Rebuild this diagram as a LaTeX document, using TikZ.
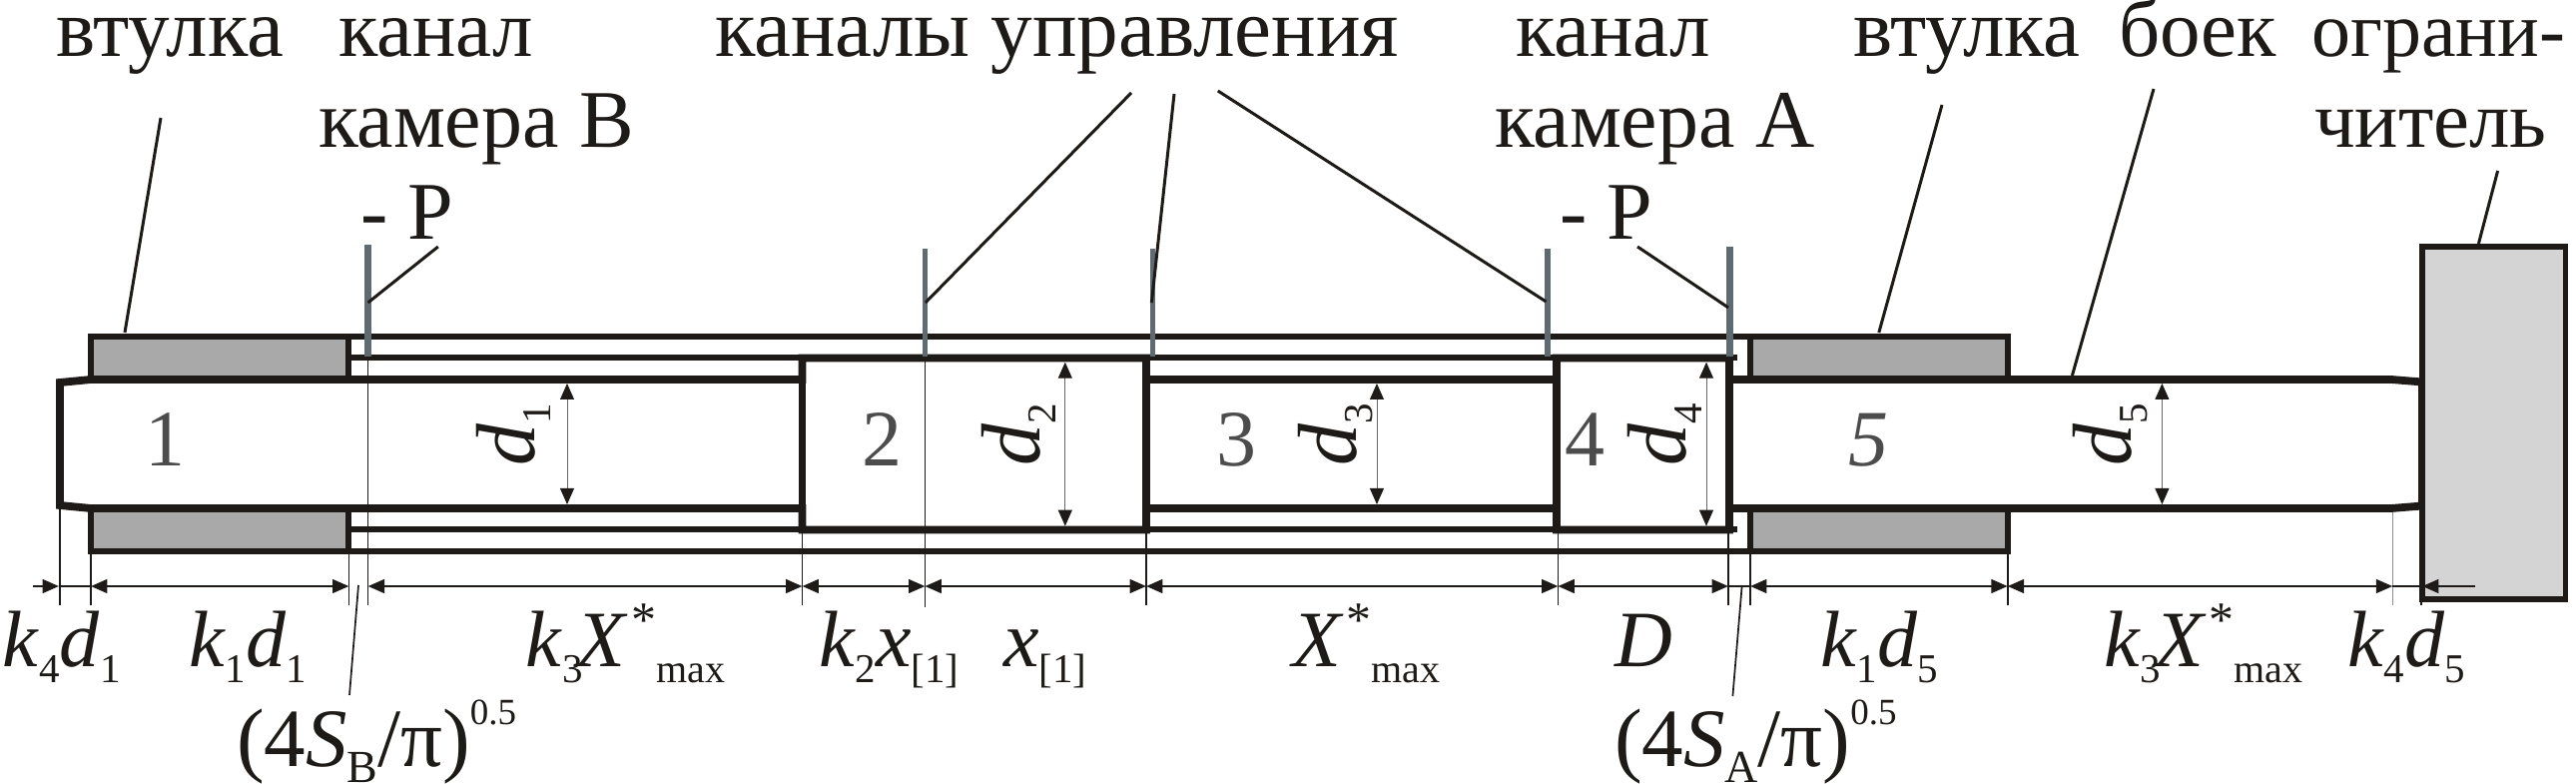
\documentclass[tikz,border=0pt]{standalone}
\usepackage{fontspec}
\setmainfont{Liberation Serif}
\usetikzlibrary{arrows.meta}
\definecolor{bushfill}{HTML}{A9A9A9}
\definecolor{stopfill}{HTML}{D4D4D4}
\definecolor{stubcol}{HTML}{5F6B70}
\definecolor{inkcol}{HTML}{1E1A18}
\definecolor{numcol}{HTML}{4C4C4C}
\newcommand\ssub[1]{\raisebox{-8pt}{\fontsize{20.5}{21}\selectfont\upshape #1}}
\newcommand\bsub[1]{\raisebox{-8pt}{\fontsize{23}{24}\selectfont\upshape #1}}
\newcommand\mx{\raisebox{-8pt}{\fontsize{20}{21}\selectfont\upshape max}}
\newcommand\strk{\raisebox{15.5pt}{\fontsize{25}{26}\selectfont\upshape *}}
\newcommand\pw{\raisebox{21pt}{\fontsize{18.5}{21}\selectfont\upshape 0.5}}
\newcommand\kk{\textit{k}}
\newcommand\dd{\textit{d}}
\begin{document}
\begin{tikzpicture}[x=0.5pt,y=-0.5pt,
  lab/.style={anchor=base west,inner sep=0pt,outer sep=0pt,font=\fontsize{#1}{44}\selectfont,text=inkcol},
  lab/.default=40,
  numlab/.style={anchor=base,inner sep=0pt,font=\fontsize{40}{44}\selectfont,text=numcol},
  rotlab/.style={rotate=90,anchor=base west,inner sep=0pt,font=\fontsize{42}{44}\selectfont,text=inkcol},
  heavy/.style={draw=inkcol,line width=3.9pt,line join=miter},
  wall/.style={draw=inkcol,line width=2.7pt,line join=miter},
  chan/.style={draw=inkcol,line width=2.6pt},
  stubw/.style={draw=stubcol,line width=3.8pt},
  stubn/.style={draw=stubcol,line width=2.7pt},
  leader/.style={draw=inkcol,line width=1.5pt},
  ext/.style={draw=inkcol,line width=0.85pt},
  faint/.style={draw=black!45,line width=0.4pt},
  dimx/.style={draw=inkcol,line width=1.3pt},
  dimb/.style={dimx,{Triangle[length=8.2pt,width=6.8pt]}-{Triangle[length=8.2pt,width=6.8pt]}},
  dimr/.style={dimx,-{Triangle[length=8.2pt,width=6.8pt]}},
  dimv/.style={draw=black!60,line width=0.45pt,{Triangle[length=8pt,width=7pt,color=inkcol,fill=inkcol]}-{Triangle[length=8pt,width=7pt,color=inkcol,fill=inkcol]}}]
\useasboundingbox (0,0) rectangle (2580,785);
\fill[white] (0,0) rectangle (2580,785);
% bushings
\foreach \a/\b/\c/\d in {91/337/349/380, 91/509/349/552, 1753/337/2011/380, 1753/509/2011/552}{
  \fill[bushfill] (\a,\b) rectangle (\c,\d);
  \draw[wall] (\a,\b) rectangle (\c,\d);
}
% channels
\draw[chan] (349,337) -- (1753,337);
\draw[chan] (349,552) -- (1753,552);
\draw[chan] (349,358) -- (1740,358);
\draw[chan] (349,530) -- (1740,530);
% striker outline
\draw[heavy] (60,383) -- (91,380) -- (803.5,380) -- (803.5,358.5) -- (1148,358.5) -- (1148,380) -- (1559,380) -- (1559,358.5) -- (1732,358.5) -- (1732,380) -- (2395,380) -- (2426,382.5)
  -- (2426,506.5) -- (2395,509) -- (1732,509) -- (1732,530.5) -- (1559,530.5) -- (1559,509) -- (1148,509) -- (1148,530.5) -- (803.5,530.5) -- (803.5,509) -- (91,509) -- (60,506) -- cycle;
% section walls
\draw[heavy] (803.5,358.5) -- (803.5,530.5);
\draw[heavy] (1148,358.5) -- (1148,530.5);
\draw[heavy] (1559,358.5) -- (1559,530.5);
\draw[heavy] (1732,358.5) -- (1732,530.5);
% stop
\draw[fill=stopfill,draw=inkcol,line width=2.6pt] (2426,247) rectangle (2569.5,600);
% channel stubs
\draw[stubw] (368.6,245) -- (368.6,357);
\draw[stubn] (926.4,249) -- (926.4,357);
\draw[stubn] (1154.5,249) -- (1154.5,357);
\draw[stubn] (1550,249) -- (1550,357);
\draw[stubw] (1732.6,247) -- (1732.6,357);
% extension lines
\draw[ext] (368.6,358) -- (368.6,606);
\draw[ext] (926.4,358) -- (926.4,608);
\draw[ext] (60,507) -- (60,606);
\draw[ext] (91,552) -- (91,606);
\draw[ext] (349.4,552) -- (349.4,606);
\draw[ext] (803.5,530) -- (803.5,606);
\draw[ext] (1148,530) -- (1148,606);
\draw[ext] (1560.4,530) -- (1560.4,606);
\draw[ext] (1731,530) -- (1731,606);
\draw[ext] (1753,552) -- (1753,606);
\draw[ext] (2010.7,552) -- (2010.7,606);
\draw[faint] (2396.3,513) -- (2396.3,606);
\draw[ext] (2425,600) -- (2425,606);
% dimension row
\foreach \n/\x in {p1/33,p2/59,p3/91,p4/349.4,p5/368.6,p6/803.5,p7/926.4,p8/1148,p9/1560.4,p10/1731,p11/1753,p12/2010.7,p13/2396.3,p14/2426,p15/2479}
  \coordinate (\n) at (\x,587);
\draw[dimr] (p1) -- (p2);
\draw[dimx] (p2) -- (p3);
\draw[dimb] (p3) -- (p4);
\draw[dimb] (p5) -- (p6);
\draw[dimb] (p6) -- (p7);
\draw[dimb] (p7) -- (p8);
\draw[dimb] (p8) -- (p9);
\draw[dimb] (p9) -- (p10);
\draw[dimx] (p10) -- (p11);
\draw[dimb] (p11) -- (p12);
\draw[dimb] (p12) -- (p13);
\draw[dimx] (p13) -- (p14);
\draw[dimr] (p15) -- (p14);
% diameter dimensions
\draw[dimv] (568,384) -- (568,505);
\draw[dimv] (1066.8,362.7) -- (1066.8,526.7);
\draw[dimv] (1379,384) -- (1379,505);
\draw[dimv] (1709,362.7) -- (1709,526.7);
\draw[dimv] (2165.4,384) -- (2165.4,505);
% leaders
\coordinate (l1a) at (161,118);   \coordinate (l1b) at (125,333);
\coordinate (l2a) at (438.8,247); \coordinate (l2b) at (368.6,303);
\coordinate (l3a) at (1133,93);   \coordinate (l3b) at (926.9,303);
\coordinate (l4a) at (1176,94);   \coordinate (l4b) at (1153.4,303);
\coordinate (l5a) at (1219.8,91); \coordinate (l5b) at (1548.4,302);
\coordinate (l6a) at (1640,247);  \coordinate (l6b) at (1731,308);
\coordinate (l7a) at (1945,105);  \coordinate (l7b) at (1881.8,333);
\coordinate (l8a) at (2157,89);   \coordinate (l8b) at (2075.4,376);
\coordinate (l9a) at (2501.6,171);\coordinate (l9b) at (2482.4,244);
\coordinate (l10a) at (359,586);  \coordinate (l10b) at (350,696);
\coordinate (l11a) at (1744.7,586);\coordinate (l11b) at (1735.4,697);
\foreach \n in {1,...,9}{\draw[leader] (l\n a) -- (l\n b);}
\draw[ext] (l10a) -- (l10b);
\draw[ext] (l11a) -- (l11b);
% upper labels
\node[lab=41.5] (t1) at (56.5,57) {втулка};
\node[lab=40.5] (t2) at (339,57) {канал};
\node[lab=41] (t3) at (319,148) {камера В};
\node[lab=41] (t4) at (361,240) {- P};
\node[lab=41.6] (t5) at (716,57) {каналы управления};
\node[lab=40.5] (t6) at (1518,57) {канал};
\node[lab=41] (t7) at (1497,148) {камера А};
\node[lab=41] (t8) at (1562,240) {- P};
\node[lab=41.5] (t9) at (1856,57) {втулка};
\node[lab=40.5] (t10) at (2122,57) {боек};
\node[lab=39] (t11) at (2315,57) {ограни-};
\node[lab=40.5] (t12) at (2318,148) {читель};
% section numbers
\node[numlab] (n1) at (165,467) {1};
\node[numlab] (n2) at (883,467) {2};
\node[numlab] (n3) at (1238,467) {3};
\node[numlab] (n4) at (1587,467) {4};
\node[numlab] (n5) at (1871,467) {\textit{5}};
% rotated diameters
\node[rotlab] (d1) at (535,467) {\dd\ssub{1}};
\node[rotlab] (d2) at (1041,467) {\dd\ssub{2}};
\node[rotlab] (d3) at (1358,467) {\dd\ssub{3}};
\node[rotlab] (d4) at (1688,467) {\dd\ssub{4}};
\node[rotlab] (d5) at (2134,467) {\dd\ssub{5}};
% lower labels
\node[lab] (b1) at (2.7,668) {\kk\ssub{4}\dd\ssub{1}};
\node[lab] (b2) at (189,668) {\kk\ssub{1}\dd\ssub{1}};
\node[lab] (b3) at (526.6,668) {\kk\ssub{3}\hspace{-3pt}\textit{X}\hspace{1.5pt}\strk\mx};
\node[lab] (b4) at (820,668) {\kk\ssub{2}\textit{x}\ssub{[1]}};
\node[lab] (b5) at (1005,668) {\textit{x}\ssub{[1]}};
\node[lab] (b6) at (1294,668) {\textit{X}\hspace{1.5pt}\strk\mx};
\node[lab] (b7) at (1617,668) {\textit{D}};
\node[lab] (b8) at (1823,668) {\kk\ssub{1}\dd\ssub{5}};
\node[lab] (b9) at (2107,668) {\kk\ssub{3}\hspace{-3pt}\textit{X}\hspace{1.5pt}\strk\mx};
\node[lab] (b10) at (2351,668) {\kk\ssub{4}\dd\ssub{5}};
\node[lab=41.5] (s1) at (237,767) {(4\textit{S}\bsub{В}/π)\pw};
\node[lab=41.5] (s2) at (1617,767) {(4\textit{S}\bsub{А}/π)\pw};
\end{tikzpicture}
\end{document}
